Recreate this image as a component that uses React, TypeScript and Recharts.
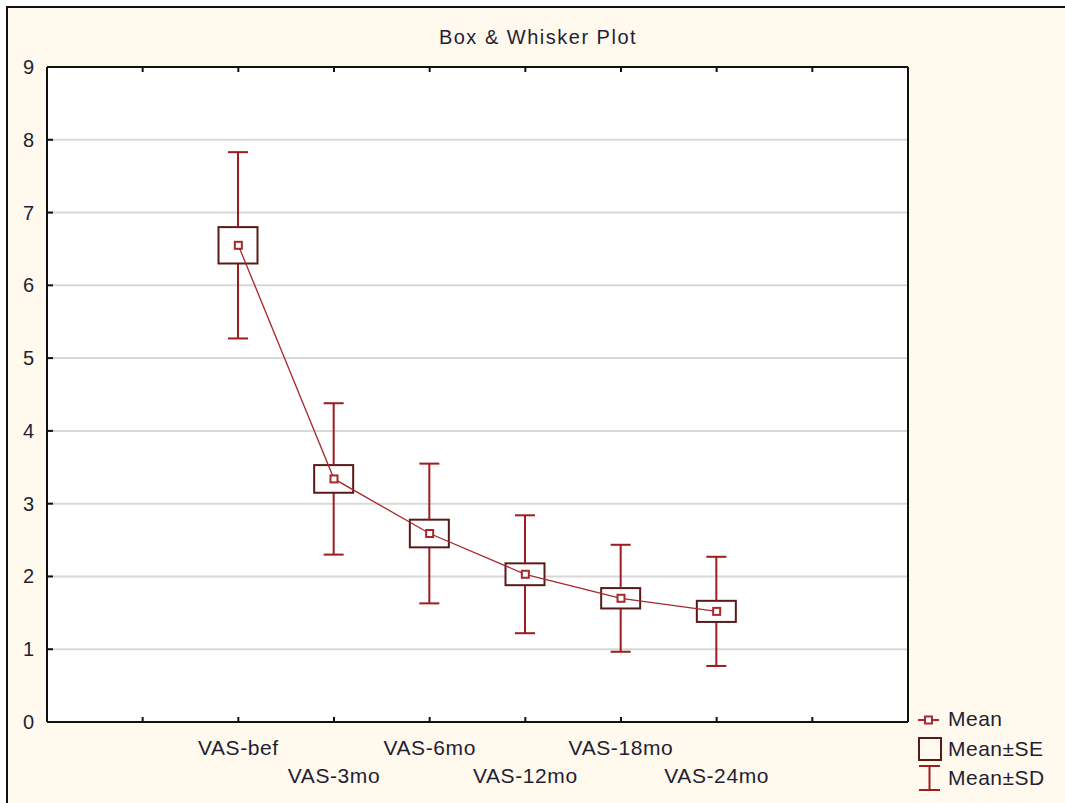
import React from 'react';
import {
  ComposedChart,
  Bar,
  Line,
  XAxis,
  YAxis,
  CartesianGrid,
  Legend,
} from 'recharts';

// ---- data ----
const categories = ['VAS-bef', 'VAS-3mo', 'VAS-6mo', 'VAS-12mo', 'VAS-18mo', 'VAS-24mo'];
const means = [6.55, 3.34, 2.59, 2.03, 1.70, 1.52];
const se = [0.25, 0.19, 0.19, 0.15, 0.14, 0.145];
const sd = [1.28, 1.04, 0.96, 0.81, 0.735, 0.75];
const xTicks = [-1, 0, 1, 2, 3, 4, 5, 6];
const yTicks = [0, 1, 2, 3, 4, 5, 6, 7, 8, 9];
const yRightTicks = [0.45, 1.45, 2.45, 3.45, 4.45, 5.45, 6.45, 7.45, 8.45];
const title = 'Box & Whisker Plot';
const legendLabels = ['Mean', 'Mean±SE', 'Mean±SD'];

const table = categories.map((c, i) => ({
  idx: i,
  name: c,
  mean: means[i],
  base: means[i] - sd[i],
  lower: sd[i] - se[i],
  box: 2 * se[i],
  upper: sd[i] - se[i],
}));

const FONT = '"Liberation Sans", Arial, sans-serif';
const TEXT = '#1f1f33';
const WHISKER = '#9e1b20';
const BOXC = '#5a1a1a';
const LINEC = '#a8282c';
const CREAM = '#fff9ee';

const YLeftTick = (props: any) => {
  const { x, y, payload } = props;
  return (
    <g>
      <line x1={x + 13} x2={x + 19} y1={y} y2={y} stroke="#111" strokeWidth={2} />
      <text x={x} y={y + 7} textAnchor="end" fontSize={20} fontFamily={FONT} fill={TEXT}>
        {payload.value}
      </text>
    </g>
  );
};

const YRightTick = (props: any) => {
  const { x, y } = props;
  return <line x1={x} x2={x - 5} y1={y} y2={y} stroke="#111" strokeWidth={2} />;
};

const XBottomTick = (props: any) => {
  const { x, y, payload } = props;
  const v = payload.value;
  const label = categories[v];
  return (
    <g>
      <line x1={x} x2={x} y1={y} y2={y - 5} stroke="#111" strokeWidth={2} />
      {label !== undefined && (
        <text
          x={x}
          y={y + (v % 2 === 1 ? 61 : 33)}
          textAnchor="middle"
          fontSize={21}
          fontFamily={FONT}
          fill={TEXT}
          letterSpacing={0.6}
        >
          {label}
        </text>
      )}
    </g>
  );
};

const XTopTick = (props: any) => {
  const { x, y } = props;
  return <line x1={x} x2={x} y1={y} y2={y + 5} stroke="#111" strokeWidth={2} />;
};

const emptyShape = () => <g />;

const LowerWhisker = (props: any) => {
  const { x, y, width, height } = props;
  const cx = x + width / 2;
  const b = y + height;
  return (
    <g>
      <line x1={cx} x2={cx} y1={y} y2={b} stroke={WHISKER} strokeWidth={2} />
      <line x1={cx - 10} x2={cx + 10} y1={b} y2={b} stroke={WHISKER} strokeWidth={2} />
    </g>
  );
};

const UpperWhisker = (props: any) => {
  const { x, y, width, height } = props;
  const cx = x + width / 2;
  return (
    <g>
      <line x1={cx} x2={cx} y1={y} y2={y + height} stroke={WHISKER} strokeWidth={2} />
      <line x1={cx - 10} x2={cx + 10} y1={y} y2={y} stroke={WHISKER} strokeWidth={2} />
    </g>
  );
};

const SEBox = (props: any) => {
  const { x, y, width, height } = props;
  return <rect x={x} y={y} width={width} height={height} fill="#fff" stroke={BOXC} strokeWidth={2} />;
};

const MeanDot = (props: any) => {
  const { cx, cy, index } = props;
  return (
    <rect
      key={`m-${index}`}
      x={cx - 3.5}
      y={cy - 3.5}
      width={7}
      height={7}
      fill="#fff"
      stroke={LINEC}
      strokeWidth={2}
    />
  );
};

const renderLegend = () => (
  <svg width={150} height={100} style={{ display: 'block' }}>
    <line x1={6} x2={27} y1={20} y2={20} stroke={LINEC} strokeWidth={2} />
    <rect x={13} y={16.5} width={7} height={7} fill="#fff" stroke={LINEC} strokeWidth={2} />
    <rect x={7} y={38} width={22} height={22} fill="none" stroke={BOXC} strokeWidth={2} />
    <line x1={17.5} x2={17.5} y1={66} y2={90} stroke={WHISKER} strokeWidth={2} />
    <line x1={7} x2={28} y1={66} y2={66} stroke={WHISKER} strokeWidth={2} />
    <line x1={7} x2={28} y1={90} y2={90} stroke={WHISKER} strokeWidth={2} />
    {legendLabels.map((t, i) => (
      <text
        key={t}
        x={36}
        y={[26, 56, 85][i]}
        fontSize={21}
        fontFamily={FONT}
        fill={TEXT}
        letterSpacing={0.5}
      >
        {t}
      </text>
    ))}
  </svg>
);

export default function App() {
  return (
    <div style={{ position: 'absolute', left: 0, top: 0, width: 1065, height: 803, background: '#fff', overflow: 'hidden' }}>
      <div
        style={{
          position: 'absolute',
          left: 6,
          top: 6,
          width: 1059,
          height: 797,
          background: CREAM,
          borderLeft: '2px solid #111',
          borderTop: '2px solid #111',
          boxSizing: 'border-box',
        }}
      />
      <div
        style={{
          position: 'absolute',
          left: 0,
          top: 24,
          width: 1076,
          textAlign: 'center',
          fontFamily: FONT,
          fontSize: 20,
          letterSpacing: 1.5,
          color: TEXT,
          lineHeight: '26px',
        }}
      >
        {title}
      </div>
      <div style={{ position: 'absolute', left: 0, top: 0 }}>
        <ComposedChart
          width={1065}
          height={803}
          data={table}
          margin={{ top: 66, right: 156, bottom: 11, left: 7 }}
        >
          <CartesianGrid
            vertical={false}
            horizontal={true}
            stroke="#d8d8d8"
            strokeWidth={2}
            fill="#ffffff"
            fillOpacity={1}
          />
          <XAxis
            dataKey="idx"
            type="number"
            domain={[-2, 7]}
            ticks={xTicks}
            interval={0}
            height={70}
            tickSize={0}
            tickMargin={0}
            tickLine={false}
            axisLine={{ stroke: '#111', strokeWidth: 2 }}
            tick={<XBottomTick />}
          />
          <XAxis
            xAxisId="top"
            orientation="top"
            dataKey="idx"
            type="number"
            domain={[-2, 7]}
            ticks={xTicks}
            interval={0}
            height={1}
            tickSize={0}
            tickMargin={0}
            tickLine={false}
            axisLine={{ stroke: '#111', strokeWidth: 2 }}
            tick={<XTopTick />}
          />
          <YAxis
            type="number"
            domain={[0, 9]}
            ticks={yTicks}
            interval={0}
            width={40}
            tickSize={0}
            tickMargin={13}
            tickLine={false}
            axisLine={{ stroke: '#111', strokeWidth: 2 }}
            tick={<YLeftTick />}
          />
          <YAxis
            yAxisId="right"
            orientation="right"
            type="number"
            domain={[0, 9]}
            ticks={yRightTicks}
            interval={0}
            width={1}
            tickSize={0}
            tickMargin={0}
            tickLine={false}
            axisLine={{ stroke: '#111', strokeWidth: 2 }}
            tick={<YRightTick />}
          />
          <Legend
            layout="horizontal"
            verticalAlign="middle"
            align="center"
            content={renderLegend}
            wrapperStyle={{ position: 'absolute', left: 912, top: 700, width: 150, height: 100 }}
          />
          <Bar dataKey="base" stackId="s" barSize={39} shape={emptyShape} fill="none" isAnimationActive={false} />
          <Bar dataKey="lower" stackId="s" barSize={39} shape={LowerWhisker} isAnimationActive={false} />
          <Bar dataKey="box" stackId="s" barSize={39} shape={SEBox} isAnimationActive={false} />
          <Bar dataKey="upper" stackId="s" barSize={39} shape={UpperWhisker} isAnimationActive={false} />
          <Line
            dataKey="mean"
            type="linear"
            stroke={LINEC}
            strokeWidth={1.3}
            dot={MeanDot}
            activeDot={false}
            isAnimationActive={false}
          />
        </ComposedChart>
      </div>
    </div>
  );
}
